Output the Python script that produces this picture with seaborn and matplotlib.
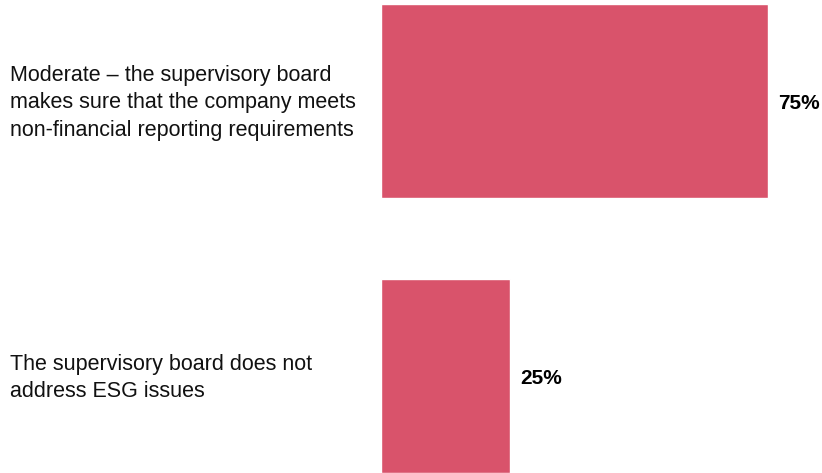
import matplotlib
matplotlib.use("Agg")
import matplotlib.pyplot as plt
import matplotlib.transforms as mtransforms
import seaborn as sns
import pandas as pd

categories = [
    "Moderate \u2013 the supervisory board\nmakes sure that the company meets\nnon-financial reporting requirements",
    "The supervisory board does not\naddress ESG issues",
]
values = [75, 25]
value_labels = ["75%", "25%"]

sns.set_style("white")
plt.rcParams["font.family"] = ["Liberation Sans", "DejaVu Sans"]

df = pd.DataFrame({"category": categories, "share": values})

fig = plt.figure(figsize=(8.22, 4.73), dpi=100)
ax = fig.add_axes([381 / 822, 0, 441 / 822, 1])

sns.barplot(data=df, x="share", y="category", orient="h", color="#D9536B",
            saturation=1, width=0.705, ax=ax)

ax.set_xlim(0, 85.5)
ax.set_ylim(1.353, -0.367)
ax.set_xlabel("")
ax.set_ylabel("")
ax.set_xticks([])
ax.set_yticks([])
for s in ax.spines.values():
    s.set_visible(False)

# category text on the left, in figure coordinates horizontally
trans = mtransforms.blended_transform_factory(fig.transFigure, ax.transData)
trans = trans + mtransforms.ScaledTranslation(0, -2 / 100, fig.dpi_scale_trans)
for i, cat in enumerate(categories):
    ax.text(10 / 822, i, cat, transform=trans, ha="left", va="center",
            fontsize=15.5, color="#111111", linespacing=1.38)

# value labels just past the end of each bar
offset = mtransforms.offset_copy(ax.transData, fig=fig, x=10, y=-3, units="dots")
for i, (v, lab) in enumerate(zip(values, value_labels)):
    ax.text(v, i, lab, transform=offset, ha="left", va="center",
            fontsize=15, fontweight="bold", color="#000000")

fig.savefig("out.png", dpi=100)
